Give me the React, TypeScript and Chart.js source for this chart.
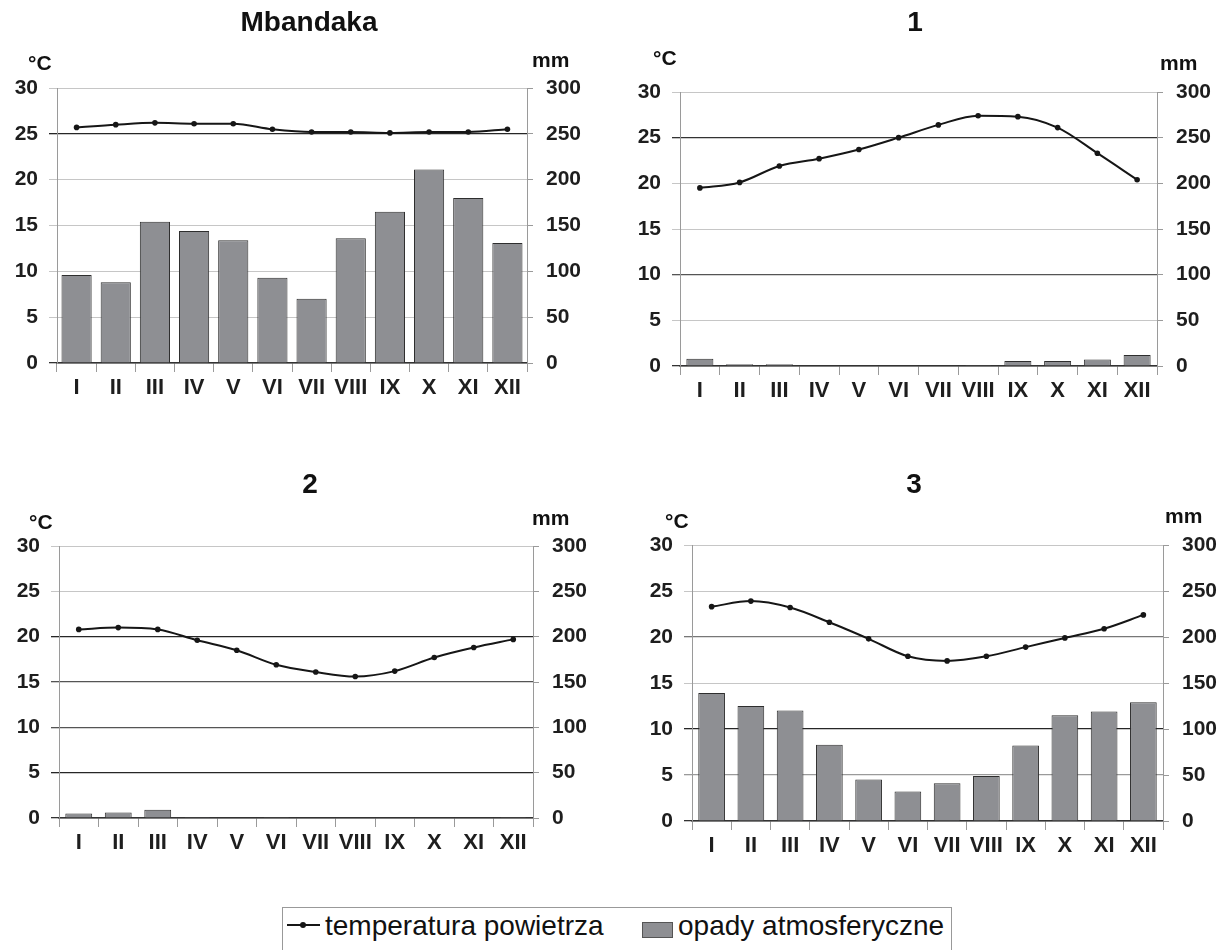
import React, { useEffect, useRef } from 'react';
import { Chart, registerables } from 'chart.js';

Chart.register(...registerables);

const months = ['I', 'II', 'III', 'IV', 'V', 'VI', 'VII', 'VIII', 'IX', 'X', 'XI', 'XII'];

const mbandakaTemp = [25.7, 26.0, 26.2, 26.1, 26.1, 25.5, 25.2, 25.2, 25.1, 25.2, 25.2, 25.5];
const mbandakaPrecip = [96, 88, 154, 144, 134, 93, 70, 136, 165, 211, 180, 131];

const chart1Temp = [19.5, 20.1, 21.9, 22.7, 23.7, 25.0, 26.4, 27.4, 27.3, 26.1, 23.3, 20.4];
const chart1Precip = [8, 2, 2, 0, 0, 0, 0, 1, 5.5, 5.5, 7, 12];

const chart2Temp = [20.8, 21.0, 20.8, 19.6, 18.5, 16.9, 16.1, 15.6, 16.2, 17.7, 18.8, 19.7];
const chart2Precip = [5, 6, 9, 1, 0, 1, 0, 0, 0, 0, 0, 1];

const chart3Temp = [23.3, 23.9, 23.2, 21.6, 19.8, 17.9, 17.4, 17.9, 18.9, 19.9, 20.9, 22.4];
const chart3Precip = [139, 125, 120, 83, 45, 32, 41, 49, 82, 115, 119, 129];

const tempLabel = '°C';
const precipLabel = 'mm';
const legendTempLabel = 'temperatura powietrza';
const legendPrecipLabel = 'opady atmosferyczne';

const FONT = "'Liberation Sans', Arial, Helvetica, sans-serif";
const BAR_FILL = '#8e8f93';
const BAR_EDGE = '#2e2e2e';
const LINE_COLOR = '#161616';
const GRID_LIGHT = '#c6c6c6';
const AXIS_GRAY = '#9a9a9a';

type Box = { left: number; top: number; width: number; height: number };
type Plot = { left: number; top: number; right: number; bottom: number };

interface ChartProps {
  temp: number[];
  precip: number[];
  box: Box;
  plot: Plot;
  gridStyle: Record<number, string>;
  barPct: number;
}

function ClimateChart({ temp, precip, box, plot, gridStyle, barPct }: ChartProps) {
  const ref = useRef<HTMLCanvasElement | null>(null);
  useEffect(() => {
    if (!ref.current) return;
    const padTop = plot.top - box.top;
    const leftW = plot.left - box.left;
    const rightW = box.left + box.width - plot.right;
    const xH = box.top + box.height - plot.bottom;
    const yFont = { family: FONT, size: 21, weight: 'bold' as const };
    const xFont = { family: FONT, size: 22, weight: 'bold' as const };
    const chart = new Chart(ref.current, {
      type: 'bar',
      data: {
        labels: months,
        datasets: [
          {
            type: 'line',
            label: legendTempLabel,
            data: temp,
            yAxisID: 'y',
            borderColor: LINE_COLOR,
            backgroundColor: LINE_COLOR,
            borderWidth: 2,
            pointRadius: 2.8,
            pointBackgroundColor: LINE_COLOR,
            pointBorderWidth: 0,
            cubicInterpolationMode: 'monotone',
            tension: 0.3,
            order: 0,
          } as any,
          {
            type: 'bar',
            label: legendPrecipLabel,
            data: precip,
            yAxisID: 'y1',
            backgroundColor: BAR_FILL,
            borderColor: BAR_EDGE,
            borderWidth: 1,
            barPercentage: barPct,
            categoryPercentage: 1,
            order: 1,
          },
        ],
      },
      options: {
        responsive: false,
        animation: false,
        layout: { padding: { top: padTop, left: 0, right: 0, bottom: 0 } },
        plugins: { legend: { display: false }, tooltip: { enabled: false }, title: { display: false } },
        scales: {
          x: {
            type: 'category',
            offset: true,
            grid: {
              offset: true,
              drawOnChartArea: false,
              drawTicks: true,
              tickLength: 9,
              color: AXIS_GRAY,
            },
            border: { color: '#333333', width: 1.5 },
            ticks: { font: xFont, color: '#1e1e1e', padding: 3, maxRotation: 0, autoSkip: false },
            afterFit: (s: any) => {
              s.height = xH;
            },
          },
          y: {
            type: 'linear',
            position: 'left',
            min: 0,
            max: 30,
            ticks: { stepSize: 5, font: yFont, color: '#1e1e1e', padding: 11 },
            grid: {
              drawTicks: true,
              tickLength: 8,
              color: (c: any) => (c.tick && gridStyle[c.tick.value]) || GRID_LIGHT,
              lineWidth: (c: any) => (c.tick && gridStyle[c.tick.value] ? 1.3 : 1),
            },
            border: { color: AXIS_GRAY, width: 1 },
            afterFit: (s: any) => {
              s.width = leftW;
            },
          },
          y1: {
            type: 'linear',
            position: 'right',
            min: 0,
            max: 300,
            ticks: { stepSize: 50, font: yFont, color: '#1e1e1e', padding: 13 },
            grid: { drawOnChartArea: false, drawTicks: true, tickLength: 6, color: AXIS_GRAY },
            border: { color: AXIS_GRAY, width: 1 },
            afterFit: (s: any) => {
              s.width = rightW;
            },
          },
        },
      },
    });
    return () => chart.destroy();
  }, []);
  return (
    <canvas
      ref={ref}
      width={box.width}
      height={box.height}
      style={{ position: 'absolute', left: box.left, top: box.top, width: box.width, height: box.height }}
    />
  );
}

function Txt({ x, y, size, bold, center, children }: any) {
  return (
    <div
      style={{
        position: 'absolute',
        left: x,
        top: y,
        fontFamily: FONT,
        fontSize: size,
        fontWeight: bold ? 'bold' : 'normal',
        lineHeight: 1,
        whiteSpace: 'nowrap',
        color: '#111',
        transform: center ? 'translateX(-50%)' : undefined,
      }}
    >
      {children}
    </div>
  );
}

export default function App() {
  return (
    <div
      style={{
        position: 'absolute',
        left: 0,
        top: 0,
        width: 1227,
        height: 950,
        overflow: 'hidden',
        background: '#ffffff',
      }}
    >
      <ClimateChart
        temp={mbandakaTemp}
        precip={mbandakaPrecip}
        box={{ left: 0, top: 0, width: 600, height: 420 }}
        plot={{ left: 57, top: 88, right: 527, bottom: 363 }}
        gridStyle={{ 25: '#262626', 0: '#333333' }}
        barPct={0.77}
      />
      <ClimateChart
        temp={chart1Temp}
        precip={chart1Precip}
        box={{ left: 610, top: 0, width: 617, height: 420 }}
        plot={{ left: 680, top: 92, right: 1157, bottom: 366 }}
        gridStyle={{ 25: '#333333', 10: '#555555', 0: '#333333' }}
        barPct={0.68}
      />
      <ClimateChart
        temp={chart2Temp}
        precip={chart2Precip}
        box={{ left: 0, top: 460, width: 600, height: 420 }}
        plot={{ left: 59, top: 546, right: 533, bottom: 818 }}
        gridStyle={{ 20: '#262626', 15: '#555555', 10: '#555555', 5: '#262626', 0: '#333333' }}
        barPct={0.68}
      />
      <ClimateChart
        temp={chart3Temp}
        precip={chart3Precip}
        box={{ left: 610, top: 460, width: 617, height: 420 }}
        plot={{ left: 692, top: 545, right: 1163, bottom: 821 }}
        gridStyle={{ 10: '#262626', 20: '#777777', 5: '#9a9a9a', 0: '#333333' }}
        barPct={0.68}
      />

      <Txt x={309} y={8} size={28} bold center>Mbandaka</Txt>
      <Txt x={915} y={8} size={28} bold center>1</Txt>
      <Txt x={310} y={470} size={28} bold center>2</Txt>
      <Txt x={914} y={470} size={28} bold center>3</Txt>

      <Txt x={28} y={52} size={21} bold>{tempLabel}</Txt>
      <Txt x={532} y={49} size={21} bold>{precipLabel}</Txt>
      <Txt x={653} y={47} size={21} bold>{tempLabel}</Txt>
      <Txt x={1160} y={52} size={21} bold>{precipLabel}</Txt>
      <Txt x={29} y={511} size={21} bold>{tempLabel}</Txt>
      <Txt x={532} y={507} size={21} bold>{precipLabel}</Txt>
      <Txt x={665} y={510} size={21} bold>{tempLabel}</Txt>
      <Txt x={1165} y={505} size={21} bold>{precipLabel}</Txt>

      <div
        style={{
          position: 'absolute',
          left: 282,
          top: 907,
          width: 670,
          height: 70,
          border: '1px solid #999',
          boxSizing: 'border-box',
        }}
      />
      <div style={{ position: 'absolute', left: 287, top: 924, width: 33, height: 2, background: LINE_COLOR }} />
      <div
        style={{
          position: 'absolute',
          left: 300,
          top: 922,
          width: 6,
          height: 6,
          borderRadius: 3,
          background: LINE_COLOR,
        }}
      />
      <Txt x={325} y={912} size={28}>{legendTempLabel}</Txt>
      <div
        style={{
          position: 'absolute',
          left: 642,
          top: 922,
          width: 31,
          height: 16,
          background: BAR_FILL,
          border: '1px solid #555',
          boxSizing: 'border-box',
        }}
      />
      <Txt x={678} y={912} size={28}>{legendPrecipLabel}</Txt>
    </div>
  );
}
